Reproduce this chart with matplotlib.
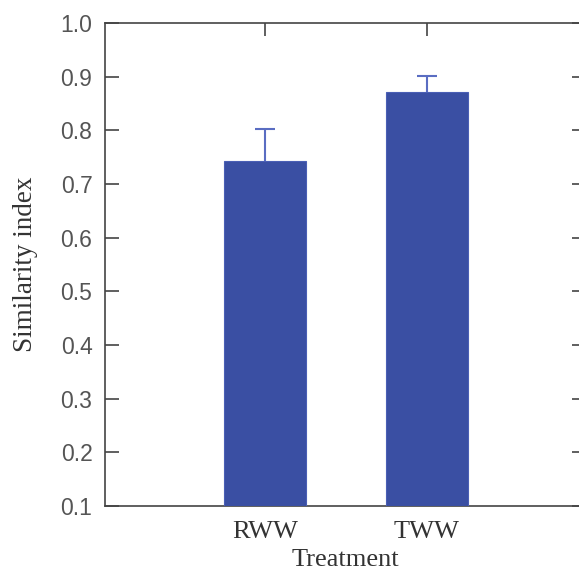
import matplotlib
matplotlib.use("Agg")
import matplotlib.pyplot as plt

treatments = ["RWW", "TWW"]
similarity = [0.743, 0.871]
errors = [0.060, 0.031]
yticks = [0.1, 0.2, 0.3, 0.4, 0.5, 0.6, 0.7, 0.8, 0.9, 1.0]

bar_color = "#3a4fa3"
err_color = "#5a6dc2"
axis_color = "#444444"

fig = plt.figure(figsize=(5.79, 5.75), dpi=100)
ax = fig.add_axes([0.1813, 0.12, 0.83, 0.84])

x = list(range(len(treatments)))
ax.bar(x, similarity, width=0.51, color=bar_color, edgecolor="#4a5fb5",
       linewidth=0.8, zorder=3)
eb = ax.errorbar(x, similarity, yerr=[[0, 0], errors], fmt="none",
                 ecolor=err_color, elinewidth=1.5, capsize=7, capthick=1.5, zorder=2)
# only the upper cap
eb[1][0].set_visible(False)

ax.set_xlim(-0.99, 1.98)
ax.set_ylim(0.1, 1.0)
ax.set_yticks(yticks)
ax.set_yticklabels([f"{v:.1f}" for v in yticks], family="Liberation Sans", fontsize=16.5)
ax.set_xticks(x)
ax.set_xticklabels(treatments, family="Liberation Serif", fontsize=19)

ax.tick_params(axis="y", direction="in", length=10, width=1.2, color=axis_color,
               labelcolor="#555555", right=True, pad=9)
ax.tick_params(axis="x", direction="in", length=9, width=1.2, color=axis_color,
               labelcolor="#333333", top=True, pad=11)

for s in ax.spines.values():
    s.set_color(axis_color)
    s.set_linewidth(1.2)

ax.set_xlabel("Treatment", family="Liberation Serif", fontsize=19, color="#333333", labelpad=4)
ax.set_ylabel("Similarity index", family="Liberation Serif", fontsize=19.5, color="#333333", labelpad=16)

fig.savefig("out.png", dpi=100)
